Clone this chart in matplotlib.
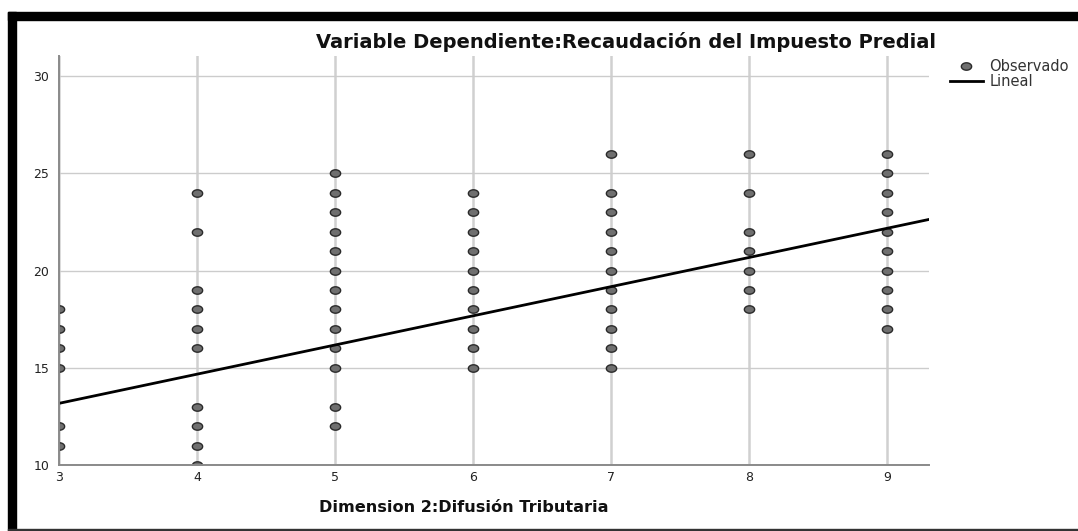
import matplotlib
matplotlib.use("Agg")
import matplotlib.pyplot as plt
import numpy as np
from matplotlib.path import Path
from matplotlib.patches import Rectangle
from matplotlib.lines import Line2D

plt.rcParams['font.family'] = ['DejaVu Sans']

# Data: observed (x, y) values by x category
x_categories = [3, 4, 5, 6, 7, 8, 9]
y_at_3 = [18, 17, 16, 15, 12, 11]
y_at_4 = [24, 22, 19, 18, 17, 16, 13, 12, 11, 10]
y_at_5 = [25, 24, 23, 22, 21, 20, 19, 18, 17, 16, 15, 13, 12]
y_at_6 = [24, 23, 22, 21, 20, 19, 18, 17, 16, 15]
y_at_7 = [26, 24, 23, 22, 21, 20, 19, 18, 17, 16, 15]
y_at_8 = [26, 24, 22, 21, 20, 19, 18]
y_at_9 = [26, 25, 24, 23, 22, 21, 20, 19, 18, 17]
y_groups = [y_at_3, y_at_4, y_at_5, y_at_6, y_at_7, y_at_8, y_at_9]

# Linear fit
intercept = 8.67
slope = 1.50

x_ticks = [3, 4, 5, 6, 7, 8, 9]
y_ticks = [10, 15, 20, 25, 30]
title = "Variable Dependiente:Recaudación del Impuesto Predial"
xlabel = "Dimension 2:Difusión Tributaria"
legend_labels = ["Observado", "Lineal"]

W, H = 1078, 531
fig = plt.figure(figsize=(W / 100, H / 100), dpi=100)
fig.patch.set_facecolor('white')
renderer = fig.canvas.get_renderer()


def fit_text(txt, target_w, base=12):
    txt.set_fontsize(base)
    w = txt.get_window_extent(renderer).width
    txt.set_fontsize(base * target_w / w)


ax = fig.add_axes([59 / W, 1 - 465 / H, (929 - 59) / W, (465 - 56) / H])
x_max = 3 + (929 - 59) / 138.0
ax.set_xlim(3, x_max)
ax.set_ylim(10, 31.03)

# grid
for xv in x_ticks:
    ax.axvline(xv, color='#d0d0d0', lw=1.8, zorder=0)
for yv in y_ticks:
    ax.axhline(yv, color='#cccccc', lw=1.0, zorder=0)

# elliptical marker
t = np.linspace(0, 2 * np.pi, 60)
verts = np.column_stack([np.cos(t), 0.72 * np.sin(t)])
ell = Path(verts, closed=True)

xs = []
ys = []
for xv, grp in zip(x_categories, y_groups):
    xs += [xv] * len(grp)
    ys += grp
ax.plot(xs, ys, linestyle='none', marker=ell, markersize=7.4,
        markerfacecolor='#6f6f6f', markeredgecolor='#2a2a2a',
        markeredgewidth=1.0, zorder=3, clip_on=True)

xl = np.array([3, x_max])
ax.plot(xl, intercept + slope * xl, color='black', lw=2.0, zorder=4)

for s in ['top', 'right']:
    ax.spines[s].set_visible(False)
for s in ['left', 'bottom']:
    ax.spines[s].set_color('#8a8a8a')
    ax.spines[s].set_linewidth(1.4)
    ax.spines[s].set_zorder(5)

ax.set_xticks(x_ticks)
ax.set_yticks(y_ticks)
ax.tick_params(length=0, labelsize=9, colors='#222222')
ax.tick_params(axis='x', pad=4)
ax.tick_params(axis='y', pad=7)

t1 = fig.text(626 / W, 1 - 42 / H, title, ha='center', va='center',
              fontweight='bold', color='#111111')
fit_text(t1, 617)
t2 = fig.text(463.5 / W, 1 - 507 / H, xlabel, ha='center', va='center',
              fontweight='bold', color='#111111')
fit_text(t2, 287)

# legend
h1 = Line2D([], [], linestyle='none', marker=ell, markersize=7.4,
            markerfacecolor='#6f6f6f', markeredgecolor='#2a2a2a', markeredgewidth=1.0)
h2 = Line2D([], [], color='black', lw=2.0)
leg = fig.legend([h1, h2], legend_labels, loc='upper left',
                 bbox_to_anchor=(950 / W, 1 - 59 / H), frameon=False,
                 fontsize=10.5, handlelength=2.25, handletextpad=0.45,
                 labelspacing=0.0, borderpad=0, borderaxespad=0)
for txt in leg.get_texts():
    txt.set_color('#333333')

# border
fig.patches.append(Rectangle((8 / W, 1 - 20 / H), 1 - 8 / W, 8 / H,
                             transform=fig.transFigure, color='black', zorder=10))
fig.patches.append(Rectangle((8 / W, 0), 8 / W, 1 - 12 / H,
                             transform=fig.transFigure, color='black', zorder=10))
fig.patches.append(Rectangle((8 / W, 1 - 530 / H), 1 - 8 / W, 1.5 / H,
                             transform=fig.transFigure, color='#333333', zorder=10))

fig.savefig('out.png', dpi=100, facecolor='white')
